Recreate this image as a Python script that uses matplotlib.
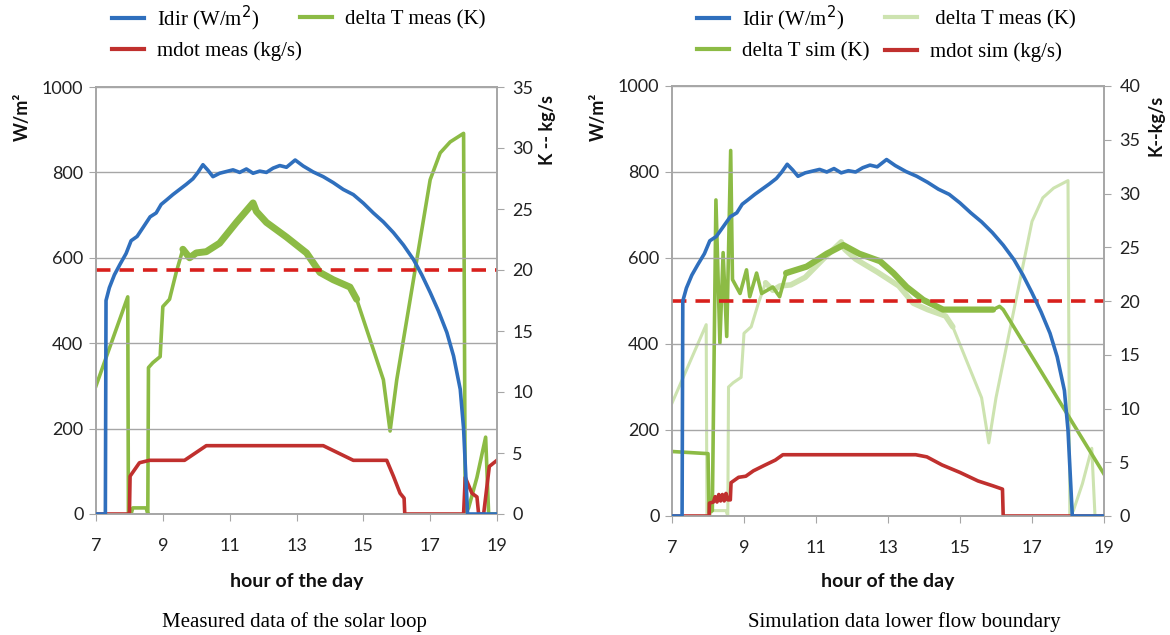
import numpy as np
import matplotlib.pyplot as plt

# ---- data ----
# direct irradiance (W/m2), same measured input in both panels
hours_idir = [7.0, 7.28, 7.3, 7.4, 7.55, 7.72, 7.9, 8.05, 8.23, 8.4, 8.62, 8.8, 8.95, 9.12,
              9.3, 9.5, 9.7, 9.9, 10.05, 10.2, 10.35, 10.5, 10.7, 10.9, 11.1, 11.3, 11.5,
              11.7, 11.9, 12.1, 12.3, 12.5, 12.7, 12.96, 13.2, 13.5, 13.8, 14.1, 14.4, 14.7,
              15.0, 15.3, 15.6, 15.9, 16.2, 16.5, 16.75, 17.0, 17.25, 17.5, 17.7, 17.9, 18.0,
              18.12, 19.0]
idir = [0, 0, 500, 530, 560, 585, 610, 640, 650, 670, 696, 705, 725, 736,
        748, 760, 772, 785, 800, 818, 805, 790, 798, 802, 806, 800, 808,
        798, 803, 800, 810, 816, 812, 829, 815, 801, 790, 776, 760, 748,
        728, 705, 684, 659, 630, 596, 560, 519, 475, 425, 370, 292, 200,
        0, 0]

# delta T measured (K)
hours_dt = [7.0, 7.95, 7.97, 8.05, 8.1, 8.5, 8.55, 8.57, 8.7, 8.92, 9.0, 9.2, 9.4, 9.6,
            9.8, 10.0, 10.3, 10.7, 11.2, 11.7, 11.8, 12.1, 12.7, 13.3, 13.7, 14.1, 14.6,
            14.8, 15.2, 15.6, 15.8, 16.0, 16.5, 17.0, 17.3, 17.6, 18.0, 18.05, 18.15,
            18.4, 18.66, 18.75, 19.0]
dt_meas = [10.5, 17.8, 0.0, 0.0, 0.5, 0.5, 0.0, 12.0, 12.4, 12.9, 17.0, 17.6, 19.8, 21.7,
           21.0, 21.4, 21.5, 22.2, 23.9, 25.5, 24.8, 23.9, 22.7, 21.4, 19.8, 19.2, 18.6,
           17.6, 14.3, 11.0, 6.8, 11.0, 19.2, 27.4, 29.6, 30.5, 31.2, 0.0, 0.5,
           3.0, 6.3, 0.0, 0.0]

# mass flow measured (kg/s)
hours_mdot = [7.0, 8.0, 8.02, 8.3, 8.6, 9.65, 10.3, 13.8, 14.7, 15.7, 15.9, 16.1, 16.22,
              16.24, 18.0, 18.05, 18.25, 18.4, 18.45, 18.6, 18.77, 19.0]
mdot_meas = [0, 0, 3.1, 4.2, 4.4, 4.4, 5.6, 5.6, 4.4, 4.4, 3.1, 1.7, 1.3,
             0, 0, 3.0, 1.7, 1.4, 0, 0, 3.9, 4.4]

# delta T simulated (K)
hours_dtsim = [7.0, 8.0, 8.03, 8.12, 8.17, 8.22, 8.33, 8.42, 8.52, 8.63, 8.68, 8.89, 9.07,
               9.16, 9.35, 9.49, 9.8, 9.99, 10.17, 10.74, 11.3, 11.76, 12.2, 12.78, 13.15,
               13.52, 13.98, 14.53, 14.99, 15.45, 15.92, 16.1, 16.2, 19.0]
dt_sim = [6.0, 5.8, 0.3, 0.5, 15.0, 29.4, 16.1, 24.5, 16.7, 34.0, 22.0, 20.7, 22.9,
          20.4, 22.6, 20.7, 21.3, 20.4, 22.6, 23.2, 24.4, 25.2, 24.4, 23.7, 22.6,
          21.3, 20.1, 19.2, 19.2, 19.2, 19.2, 19.5, 19.2, 3.9]

# mass flow simulated (kg/s)
hours_msim = [7.0, 8.03, 8.04, 8.15, 8.2, 8.25, 8.3, 8.35, 8.4, 8.45, 8.5, 8.55, 8.62,
              8.64, 8.85, 9.05, 9.26, 9.56, 9.87, 10.08, 13.77, 14.08, 14.5, 15.0, 15.5,
              15.92, 16.18, 16.2, 19.0]
mdot_sim = [0, 0, 1.2, 1.3, 1.8, 1.3, 2.0, 1.4, 2.0, 1.4, 2.1, 1.5, 1.5,
            3.1, 3.6, 3.7, 4.2, 4.7, 5.2, 5.7, 5.7, 5.5, 4.75, 4.05, 3.26,
            2.8, 2.5, 0, 0]

dt_limit = 20  # K, dashed line

hour_ticks = [7, 9, 11, 13, 15, 17, 19]

BLUE = "#2f6fbd"
GREEN = "#8cbb45"
LGREEN = "#cde3b0"
RED = "#c0302e"
DASH = "#d8201c"
GRAY = "#a6a6a6"

W, H = 1170, 635
sans = "Lato"
serif = "Liberation Serif"

fig = plt.figure(figsize=(W / 100, H / 100), dpi=100)


def px(x0, y0, x1, y1):
    # pixel box (top-left origin) -> figure fraction rect
    return [x0 / W, 1 - y1 / H, (x1 - x0) / W, (y1 - y0) / H]


def style(ax, ax2, kmax):
    ax.set_xlim(7, 19)
    ax.set_ylim(0, 1000)
    ax.set_yticks(range(0, 1001, 200))
    ax.set_xticks(hour_ticks)
    ax.grid(axis="y", color=GRAY, lw=1.0)
    ax.set_axisbelow(True)
    ax2.set_ylim(0, kmax)
    ax2.set_yticks(range(0, kmax + 1, 5))
    for a in (ax, ax2):
        for s in a.spines.values():
            s.set_color(GRAY)
            s.set_linewidth(1.2)
        a.tick_params(direction="out", length=5, color=GRAY, labelsize=13,
                      labelcolor="#222222")
        for lab in a.get_xticklabels() + a.get_yticklabels():
            lab.set_fontfamily(sans)
    ax.tick_params(axis="x", pad=12)
    ax.tick_params(axis="y", pad=4)
    ax2.tick_params(axis="y", pad=6)


def noisy_part(h, v, lo, hi):
    # section of a series where the logged signal forms a thick band
    pts = [(a, b) for a, b in zip(h, v) if lo <= a <= hi]
    return [p[0] for p in pts], [p[1] for p in pts]


band = dict(solid_capstyle="round", solid_joinstyle="round")

# ---- left panel: measured ----
axl = fig.add_axes(px(96, 87, 497, 514))
axl2 = axl.twinx()
axl.plot(hours_idir, idir, color=BLUE, lw=2.6, zorder=3)
axl2.plot(hours_dt, dt_meas, color=GREEN, lw=2.6, zorder=2)
axl2.plot(*noisy_part(hours_dt, dt_meas, 9.6, 15.0), color=GREEN, lw=5, zorder=2, **band)
axl2.plot(hours_mdot, mdot_meas, color=RED, lw=2.6, zorder=4)
axl2.axhline(dt_limit, color=DASH, lw=2.6, ls=(0, (4, 2.5)), zorder=5)
style(axl, axl2, 35)
axl.set_zorder(axl2.get_zorder() + 1)
axl.patch.set_visible(False)

# ---- right panel: simulation ----
axr = fig.add_axes(px(672, 86, 1104, 516))
axr2 = axr.twinx()
axr.plot(hours_idir, idir, color=BLUE, lw=2.6, zorder=3)
axr2.plot(hours_dt, dt_meas, color=LGREEN, lw=2.2, zorder=1)
axr2.plot(*noisy_part(hours_dt, dt_meas, 9.6, 15.0), color=LGREEN, lw=4, zorder=1, **band)
axr2.plot(hours_dtsim, dt_sim, color=GREEN, lw=2.6, zorder=2)
axr2.plot(*noisy_part(hours_dtsim, dt_sim, 10.1, 15.95), color=GREEN, lw=4.5, zorder=2,
          **band)
axr2.plot(hours_msim, mdot_sim, color=RED, lw=2.6, zorder=4)
axr2.axhline(dt_limit, color=DASH, lw=2.6, ls=(0, (4, 2.5)), zorder=5)
style(axr, axr2, 40)
axr.set_zorder(axr2.get_zorder() + 1)
axr.patch.set_visible(False)

# ---- axis titles ----
lab = dict(fontfamily=sans, fontweight="bold", fontsize=13, color="#111111")
fig.text(22 / W, 1 - 117 / H, "W/m²", rotation=90, ha="center", va="center", **lab)
fig.text(598 / W, 1 - 117 / H, "W/m²", rotation=90, ha="center", va="center", **lab)
fig.text(548 / W, 1 - 130 / H, "K -- kg/s", rotation=90, ha="center", va="center", **lab)
fig.text(1156 / W, 1 - 125 / H, "K--kg/s", rotation=90, ha="center", va="center", **lab)
fig.text(297 / W, 1 - 581 / H, "hour of the day", ha="center", va="center",
         fontfamily=sans, fontweight="bold", fontsize=14, color="#111111")
fig.text(888 / W, 1 - 581 / H, "hour of the day", ha="center", va="center",
         fontfamily=sans, fontweight="bold", fontsize=14, color="#111111")

# ---- captions ----
fig.text(294 / W, 1 - 622 / H, "Measured data of the solar loop", ha="center",
         va="center", fontfamily=serif, fontsize=15)
fig.text(904 / W, 1 - 622 / H, "Simulation data lower flow boundary", ha="center",
         va="center", fontfamily=serif, fontsize=15)


# ---- legends, one entry each ----
def leg(color, text, x, y):
    h = plt.Line2D([], [], color=color, lw=3)
    lg = fig.legend([h], [text], loc="center left", bbox_to_anchor=(x / W, 1 - y / H),
                    frameon=False, borderpad=0, borderaxespad=0, handlelength=1.55,
                    handletextpad=0.6, prop=dict(family=serif, size=15))
    return lg


leg(BLUE, "Idir (W/m$^2$)", 112, 18)
leg(RED, "mdot meas (kg/s)", 112, 51)
leg(GREEN, "delta T meas (K)", 300, 20)
leg(BLUE, "Idir (W/m$^2$)", 697, 18)
leg(GREEN, "delta T sim (K)", 697, 52)
leg(LGREEN, " delta T meas (K)", 885, 20)
leg(RED, "mdot sim (kg/s)", 885, 52)

fig.savefig("out.png", dpi=100)
